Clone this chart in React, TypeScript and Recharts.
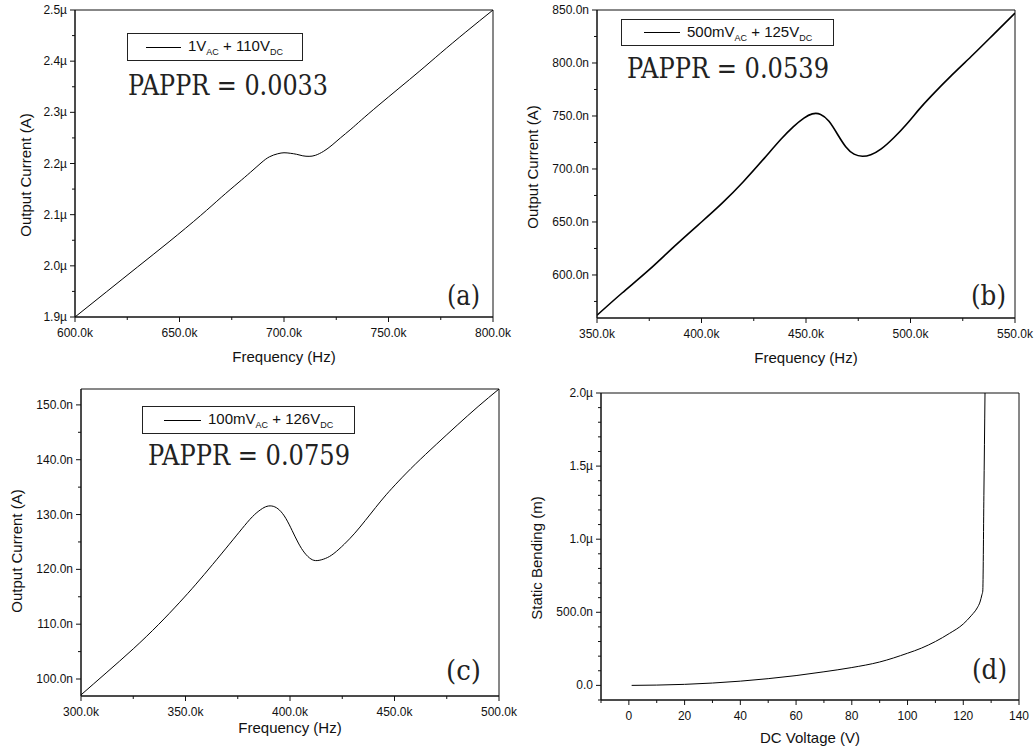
import React from 'react'
import { LineChart, Line, XAxis, YAxis, ReferenceArea, Legend } from 'recharts'

// (a) 1V AC + 110V DC  -> frequency (kHz), output current (µA)
const freqA = [600, 615, 630, 645, 660, 670, 678, 684, 689, 693, 697, 700, 703, 706, 709, 712, 715, 719, 723, 727, 732, 737, 745, 755, 765, 775, 787, 800]
const currentA = [1.9, 1.949, 1.998, 2.047, 2.098, 2.134, 2.162, 2.183, 2.201, 2.213, 2.219, 2.221, 2.22, 2.218, 2.215, 2.214, 2.216, 2.224, 2.236, 2.25, 2.267, 2.285, 2.313, 2.347, 2.381, 2.416, 2.457, 2.5]

// (b) 500mV AC + 125V DC -> frequency (kHz), output current (nA)
const freqB = [350, 362, 375, 387, 400, 410, 420, 430, 438, 444, 449, 453, 457, 461, 465, 469, 473, 477, 481, 486, 492, 498, 504, 510, 520, 530, 540, 550]
const currentB = [562, 583, 605, 627, 650, 668, 688, 710, 728, 740, 748, 752, 751.5, 745, 733, 721, 714, 712, 713.5, 719, 729.5, 742, 756, 769, 789, 808, 827.5, 847]

// (c) 100mV AC + 126V DC -> frequency (kHz), output current (nA)
const freqC = [300, 312, 325, 337, 347, 355, 363, 371, 377, 382, 386, 389, 392, 395, 398, 401, 404, 407, 410, 413, 417, 421, 426, 431, 436, 441, 446, 452, 460, 470, 480, 490, 500]
const currentC = [97.1, 101.1, 105.5, 109.9, 113.9, 117.3, 120.9, 124.6, 127.4, 129.6, 130.9, 131.5, 131.5, 130.8, 129.3, 127.1, 124.8, 123.0, 121.9, 121.6, 122.0, 122.9, 124.6, 126.6, 128.9, 131.3, 133.6, 136.1, 139.2, 142.8, 146.3, 149.7, 152.9]

// (d) DC voltage (V), static bending (µm)
const voltageD = [1, 10, 20, 30, 40, 50, 60, 70, 80, 90, 100, 105, 110, 115, 120, 123, 125, 126, 126.7, 127, 127.4, 127.8]
const bendingD = [0, 0.002, 0.007, 0.016, 0.029, 0.046, 0.067, 0.093, 0.122, 0.16, 0.22, 0.255, 0.3, 0.355, 0.42, 0.48, 0.53, 0.57, 0.62, 0.645, 1.3, 2.0]

const ticksFreqA = [600, 650, 700, 750, 800]
const minorFreqA = [625, 675, 725, 775]
const ticksCurA = [1.9, 2.0, 2.1, 2.2, 2.3, 2.4, 2.5]
const minorCurA = [1.95, 2.05, 2.15, 2.25, 2.35, 2.45]

const ticksFreqB = [350, 400, 450, 500, 550]
const minorFreqB = [375, 425, 475, 525]
const ticksCurB = [600, 650, 700, 750, 800, 850]
const minorCurB = [575, 625, 675, 725, 775, 825]

const ticksFreqC = [300, 350, 400, 450, 500]
const minorFreqC = [325, 375, 425, 475]
const ticksCurC = [100, 110, 120, 130, 140, 150]
const minorCurC = [105, 115, 125, 135, 145]

const ticksVoltD = [0, 20, 40, 60, 80, 100, 120, 140]
const minorVoltD = [-10, 10, 30, 50, 70, 90, 110, 130]
const ticksBendD = [0, 0.5, 1.0, 1.5, 2.0]
const minorBendD = [-0.1, 0.1, 0.2, 0.3, 0.4, 0.6, 0.7, 0.8, 0.9, 1.1, 1.2, 1.3, 1.4, 1.6, 1.7, 1.8, 1.9]

const SANS = "'Liberation Sans', Arial, Helvetica, sans-serif"
const SERIF = "'DejaVu Serif', serif"
const INK = '#111'

const fmtK = (v: number) => v.toFixed(1) + 'k'
const fmtMicro = (v: number) => v.toFixed(1) + 'µ'
const fmtNano = (v: number) => v.toFixed(1) + 'n'
const fmtInt = (v: number) => String(v)
const fmtBend = (v: number) => (v === 0 ? '0.0' : v < 1 ? (v * 1000).toFixed(1) + 'n' : v.toFixed(1) + 'µ')

const isMajor = (v: number, majors: number[]) => majors.some(m => Math.abs(m - v) < 1e-9)

interface LegendCfg {
  left: number
  top: number
  width: number
  height: number
  lineLeft: number
  lineLen: number
  ac: string
  dc: string
}

interface PanelProps {
  left: number
  top: number
  width: number
  height: number
  plot: [number, number, number, number] // l, t, r, b
  xs: number[]
  ys: number[]
  xDomain: [number, number]
  yDomain: [number, number]
  xMajor: number[]
  xMinor: number[]
  yMajor: number[]
  yMinor: number[]
  fmtX: (v: number) => string
  fmtY: (v: number) => string
  xTitle: string
  yTitle: string
  yTitleAt: [number, number]
  xTitleBaseline: number
  strokeWidth: number
  curve: 'natural' | 'monotone'
  name: string
  legend?: LegendCfg
}

function Panel(p: PanelProps) {
  const data = p.xs.map((x, i) => ({ x, y: p.ys[i] }))
  const [l, t, r, b] = p.plot
  const xTicks = [...p.xMajor, ...p.xMinor].sort((a, c) => a - c)
  const yTicks = [...p.yMajor, ...p.yMinor].sort((a, c) => a - c)

  const xTick = (props: any) => {
    const v = props.payload.value
    const major = isMajor(v, p.xMajor)
    return (
      <g>
        <line x1={props.x} x2={props.x} y1={props.y} y2={props.y + (major ? 5 : 3)} stroke={INK} />
        {major && (
          <text x={props.x} y={props.y + 20} textAnchor="middle" fontSize={12} style={{ fontFamily: SANS }} fill={INK}>
            {p.fmtX(v)}
          </text>
        )}
      </g>
    )
  }

  const yTick = (props: any) => {
    const v = props.payload.value
    const major = isMajor(v, p.yMajor)
    return (
      <g>
        <line x1={props.x} x2={props.x - (major ? 5 : 3)} y1={props.y} y2={props.y} stroke={INK} />
        {major && (
          <text x={props.x - 8} y={props.y + 4} textAnchor="end" fontSize={12} style={{ fontFamily: SANS }} fill={INK}>
            {p.fmtY(v)}
          </text>
        )}
      </g>
    )
  }

  const lg = p.legend

  return (
    <div style={{ position: 'absolute', left: p.left, top: p.top, width: p.width, height: p.height }}>
      <LineChart
        width={p.width}
        height={p.height}
        data={data}
        margin={{ top: t, right: p.width - r, left: 0, bottom: 0 }}
      >
        <XAxis
          dataKey="x"
          type="number"
          domain={p.xDomain}
          ticks={xTicks}
          interval={0}
          allowDataOverflow
          height={p.height - b}
          tickSize={0}
          tickMargin={0}
          tickLine={false}
          axisLine={{ stroke: INK }}
          tick={xTick}
          label={() => (
            <text x={(l + r) / 2} y={p.xTitleBaseline} textAnchor="middle" fontSize={15} style={{ fontFamily: SANS }} fill={INK}>
              {p.xTitle}
            </text>
          )}
        />
        <YAxis
          type="number"
          domain={p.yDomain}
          ticks={yTicks}
          interval={0}
          allowDataOverflow
          width={l}
          tickSize={0}
          tickMargin={0}
          tickLine={false}
          axisLine={{ stroke: INK }}
          tick={yTick}
          label={() => (
            <text
              transform={`translate(${p.yTitleAt[0]},${p.yTitleAt[1]}) rotate(-90)`}
              textAnchor="middle"
              dominantBaseline="central"
              fontSize={15}
              style={{ fontFamily: SANS }}
              fill={INK}
            >
              {p.yTitle}
            </text>
          )}
        />
        <ReferenceArea
          x1={p.xDomain[0]}
          x2={p.xDomain[1]}
          y1={p.yDomain[0]}
          y2={p.yDomain[1]}
          fill="none"
          stroke={INK}
          strokeWidth={1}
          ifOverflow="visible"
        />
        <Line
          type={p.curve}
          dataKey="y"
          name={p.name}
          stroke="#000"
          strokeWidth={p.strokeWidth}
          dot={false}
          isAnimationActive={false}
        />
        {lg && (
          <Legend
            layout="vertical"
            align="center"
            verticalAlign="middle"
            wrapperStyle={{ left: lg.left, top: lg.top, width: lg.width, height: lg.height }}
            content={(props: any) => {
              const color = props.payload?.[0]?.color ?? '#000'
              return (
                <div
                  style={{
                    position: 'relative',
                    width: lg.width,
                    height: lg.height,
                    boxSizing: 'border-box',
                    border: '1px solid #222',
                    background: '#fff',
                    display: 'flex',
                    alignItems: 'center',
                    fontFamily: SANS,
                    color: INK,
                  }}
                >
                  <div style={{ marginLeft: lg.lineLeft, width: lg.lineLen, borderTop: `1px solid ${color}`, marginRight: 7 }} />
                  <span style={{ fontSize: 15, lineHeight: '15px', whiteSpace: 'nowrap' }}>
                    {lg.ac}
                    <span style={{ fontSize: 9, position: 'relative', top: 4 }}>AC</span>
                    {' + ' + lg.dc}
                    <span style={{ fontSize: 9, position: 'relative', top: 4 }}>DC</span>
                  </span>
                </div>
              )
            }}
          />
        )}
      </LineChart>
    </div>
  )
}

const serifText = { fontFamily: SERIF }

export default function App() {
  return (
    <div style={{ position: 'absolute', left: 0, top: 0, width: 1036, height: 752, background: '#fff' }}>
      <Panel
        left={0}
        top={0}
        width={518}
        height={376}
        plot={[75, 10, 493, 317]}
        xs={freqA}
        ys={currentA}
        xDomain={[600, 800]}
        yDomain={[1.9, 2.5]}
        xMajor={ticksFreqA}
        xMinor={minorFreqA}
        yMajor={ticksCurA}
        yMinor={minorCurA}
        fmtX={fmtK}
        fmtY={fmtMicro}
        xTitle="Frequency (Hz)"
        yTitle="Output Current (A)"
        yTitleAt={[25, 175]}
        xTitleBaseline={362}
        strokeWidth={1}
        curve="natural"
        name="1VAC + 110VDC"
        legend={{ left: 127, top: 33, width: 176, height: 28, lineLeft: 18, lineLen: 35, ac: '1V', dc: '110V' }}
      />
      <Panel
        left={516}
        top={0}
        width={520}
        height={376}
        plot={[81, 10, 499, 318]}
        xs={freqB}
        ys={currentB}
        xDomain={[350, 550]}
        yDomain={[559.4, 850]}
        xMajor={ticksFreqB}
        xMinor={minorFreqB}
        yMajor={ticksCurB}
        yMinor={minorCurB}
        fmtX={fmtK}
        fmtY={fmtNano}
        xTitle="Frequency (Hz)"
        yTitle="Output Current (A)"
        yTitleAt={[16, 167]}
        xTitleBaseline={363}
        strokeWidth={1.6}
        curve="natural"
        name="500mVAC + 125VDC"
        legend={{ left: 105, top: 19, width: 213, height: 27, lineLeft: 22, lineLen: 36, ac: '500mV', dc: '125V' }}
      />
      <Panel
        left={0}
        top={370}
        width={518}
        height={382}
        plot={[81, 19, 499, 326]}
        xs={freqC}
        ys={currentC}
        xDomain={[300, 500]}
        yDomain={[96.9, 152.9]}
        xMajor={ticksFreqC}
        xMinor={minorFreqC}
        yMajor={ticksCurC}
        yMinor={minorCurC}
        fmtX={fmtK}
        fmtY={fmtNano}
        xTitle="Frequency (Hz)"
        yTitle="Output Current (A)"
        yTitleAt={[16, 181]}
        xTitleBaseline={363}
        strokeWidth={1}
        curve="natural"
        name="100mVAC + 126VDC"
        legend={{ left: 142, top: 36, width: 213, height: 28, lineLeft: 21, lineLen: 37, ac: '100mV', dc: '126V' }}
      />
      <Panel
        left={516}
        top={370}
        width={520}
        height={382}
        plot={[85, 23, 503, 330]}
        xs={voltageD}
        ys={bendingD}
        xDomain={[-10, 140]}
        yDomain={[-0.1, 2.0]}
        xMajor={ticksVoltD}
        xMinor={minorVoltD}
        yMajor={ticksBendD}
        yMinor={minorBendD}
        fmtX={fmtInt}
        fmtY={fmtBend}
        xTitle="DC Voltage (V)"
        yTitle="Static Bending (m)"
        yTitleAt={[20, 188]}
        xTitleBaseline={373}
        strokeWidth={1}
        curve="monotone"
        name="Static bending"
      />
      <svg
        width={1036}
        height={752}
        style={{ position: 'absolute', left: 0, top: 0, pointerEvents: 'none' }}
        fill="#222"
      >
        <text x={128} y={95} fontSize={27} textLength={200} lengthAdjust="spacingAndGlyphs" style={serifText}>PAPPR = 0.0033</text>
        <text x={627} y={78} fontSize={27} textLength={202} lengthAdjust="spacingAndGlyphs" style={serifText}>PAPPR = 0.0539</text>
        <text x={148} y={465} fontSize={27} textLength={202} lengthAdjust="spacingAndGlyphs" style={serifText}>PAPPR = 0.0759</text>
        <text x={447} y={305} fontSize={28} textLength={33} lengthAdjust="spacingAndGlyphs" style={serifText}>(a)</text>
        <text x={971} y={305} fontSize={28} textLength={35} lengthAdjust="spacingAndGlyphs" style={serifText}>(b)</text>
        <text x={446} y={680} fontSize={28} textLength={35} lengthAdjust="spacingAndGlyphs" style={serifText}>(c)</text>
        <text x={972} y={679} fontSize={28} textLength={35} lengthAdjust="spacingAndGlyphs" style={serifText}>(d)</text>
      </svg>
    </div>
  )
}
